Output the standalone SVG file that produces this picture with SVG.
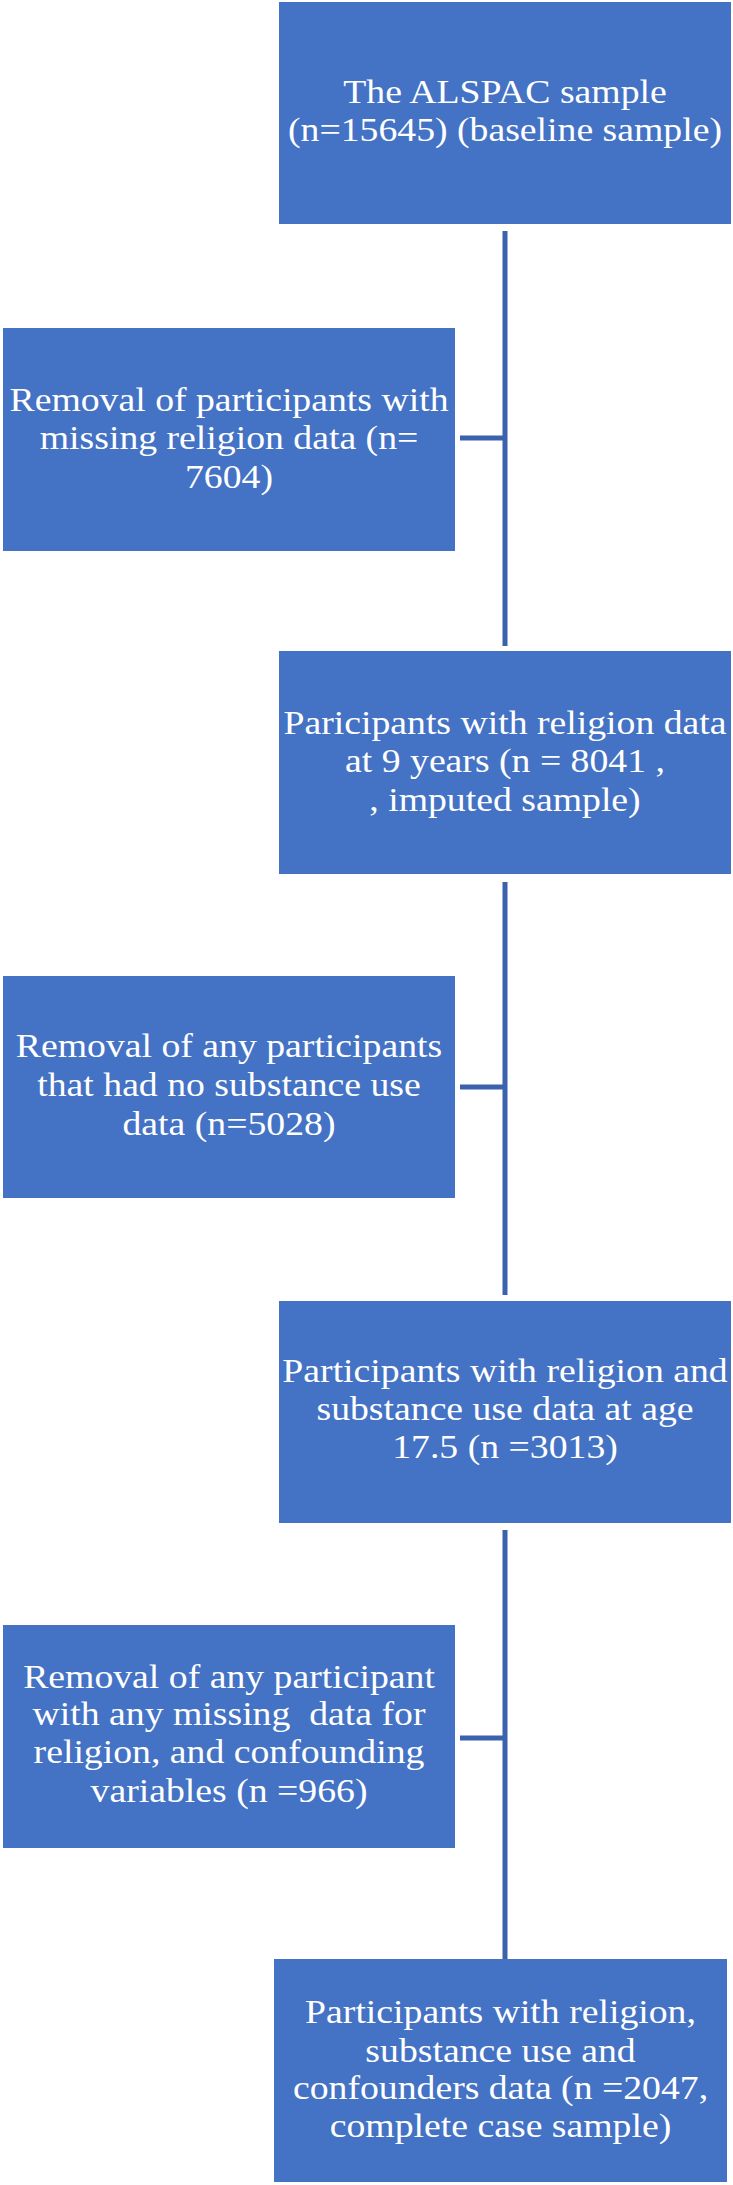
<svg xmlns="http://www.w3.org/2000/svg" width="733" height="2185" viewBox="0 0 733 2185">
<style>
.box{fill:#4472C4;}
.lbl{font-family:"Liberation Serif","Times New Roman",serif;font-size:34px;fill:#FFFFFF;text-anchor:middle;white-space:pre;}
.conn{stroke:#3A62AD;stroke-width:5;fill:none;}
</style>
<rect x="0" y="0" width="733" height="2185" fill="#FFFFFF"/>
<g id="connectors">
<line class="conn" x1="505" y1="231" x2="505" y2="646"/>
<line class="conn" x1="460" y1="438" x2="505" y2="438"/>
<line class="conn" x1="505" y1="882" x2="505" y2="1295"/>
<line class="conn" x1="460" y1="1087" x2="505" y2="1087"/>
<line class="conn" x1="505" y1="1530" x2="505" y2="1959"/>
<line class="conn" x1="460" y1="1738" x2="505" y2="1738"/>
</g>
<g id="node1">
<rect class="box" x="279" y="2" width="452" height="222"/>
<text class="lbl" transform="translate(505 0) scale(1.11 1)"><tspan x="0" y="103">The ALSPAC sample</tspan><tspan x="0" y="141">(n=15645) (baseline sample)</tspan></text>
</g>
<g id="node2">
<rect class="box" x="3" y="328" width="452" height="223"/>
<text class="lbl" transform="translate(229 0) scale(1.11 1)"><tspan x="0" y="411">Removal of participants with</tspan><tspan x="0" y="449">missing religion data (n=</tspan><tspan x="0" y="488">7604)</tspan></text>
</g>
<g id="node3">
<rect class="box" x="279" y="651" width="452" height="223"/>
<text class="lbl" transform="translate(505 0) scale(1.11 1)"><tspan x="0" y="734">Paricipants with religion data</tspan><tspan x="0" y="772">at 9 years (n = 8041 ,</tspan><tspan x="0" y="811">, imputed sample)</tspan></text>
</g>
<g id="node4">
<rect class="box" x="3" y="976" width="452" height="222"/>
<text class="lbl" transform="translate(229 0) scale(1.11 1)"><tspan x="0" y="1057">Removal of any participants</tspan><tspan x="0" y="1096">that had no substance use</tspan><tspan x="0" y="1135">data (n=5028)</tspan></text>
</g>
<g id="node5">
<rect class="box" x="279" y="1301" width="452" height="222"/>
<text class="lbl" transform="translate(505 0) scale(1.11 1)"><tspan x="0" y="1382">Participants with religion and</tspan><tspan x="0" y="1420">substance use data at age</tspan><tspan x="0" y="1458">17.5 (n =3013)</tspan></text>
</g>
<g id="node6">
<rect class="box" x="3" y="1625" width="452" height="223"/>
<text class="lbl" transform="translate(229 0) scale(1.11 1)"><tspan x="0" y="1688">Removal of any participant</tspan><tspan x="0" y="1725">with any missing  data for</tspan><tspan x="0" y="1763">religion, and confounding</tspan><tspan x="0" y="1802">variables (n =966)</tspan></text>
</g>
<g id="node7">
<rect class="box" x="274" y="1959" width="453" height="223"/>
<text class="lbl" transform="translate(500.5 0) scale(1.11 1)"><tspan x="0" y="2023">Participants with religion,</tspan><tspan x="0" y="2062">substance use and</tspan><tspan x="0" y="2099">confounders data (n =2047,</tspan><tspan x="0" y="2137">complete case sample)</tspan></text>
</g>
</svg>
